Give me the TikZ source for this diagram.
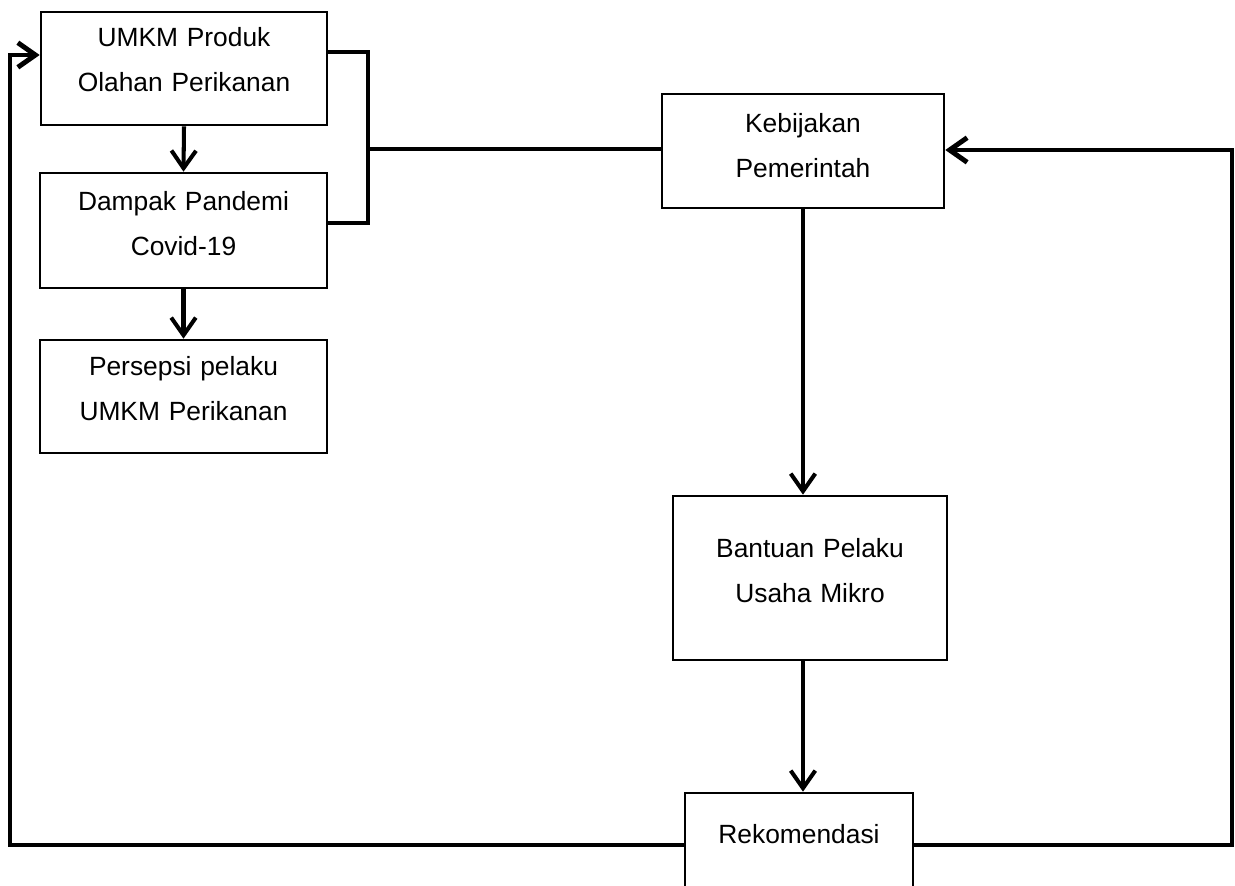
\documentclass[tikz,border=0pt]{standalone}
\usepackage{fontspec}
\setmainfont{Liberation Sans}
\usetikzlibrary{arrows.meta}
\begin{document}
\begin{tikzpicture}[
        x=0.02cm, y=-0.02cm,
        box/.style={rectangle, draw, line width=1.5pt, align=center, inner xsep=0pt, inner ysep=0pt},
        link/.style={line width=2.3pt},
        arrow/.style={link, -{Straight Barb[length=10pt, width=14pt]}},
        loop/.style={line width=2.8pt},
        every node/.style={font=\fontsize{15}{26}\selectfont}
        ]
      \useasboundingbox (0,0) rectangle (1235,886);
      % left column
      \node[box, text width=5.72cm, text height=0.68cm, text depth=1.58cm] (umkm) at (184,68.5) {UMKM Produk\\Olahan Perikanan};
      \node[box, text width=5.74cm, text height=0.74cm, text depth=1.56cm] (dampak) at (183.5,230.5) {Dampak Pandemi\\Covid-19};
      \node[box, text width=5.74cm, text height=0.70cm, text depth=1.56cm] (persepsi) at (183.5,396.5) {Persepsi pelaku\\UMKM Perikanan};
      % right column
      \node[box, text width=5.64cm, text height=0.76cm, text depth=1.52cm] (kebijakan) at (803,151) {Kebijakan\\Pemerintah};
      \node[box, text width=5.48cm, text height=1.22cm, text depth=2.06cm] (bantuan) at (810,578) {Bantuan Pelaku\\Usaha Mikro};
      \node[box, text width=4.56cm, text height=1.00cm, text depth=1.08cm] (rekom) at (799,845) {Rekomendasi};
      % corners of the lines
      \coordinate (bt) at (368,52);
      \coordinate (bm) at (368,149);
      \coordinate (bb) at (368,223);
      \coordinate (lt) at (10,55);
      \coordinate (lb) at (10,845);
      \coordinate (rt) at (1232,150);
      \coordinate (rb) at (1232,845);
      \draw[arrow] (umkm.south) -- (dampak.north);
      \draw[arrow] (dampak.south) -- (persepsi.north);
      \draw[link] (bt -| umkm.east) -- (bt) -- (bb) -- (bb -| dampak.east);
      \draw[link] (bm) -- (bm -| kebijakan.west);
      \draw[arrow] (kebijakan.south) -- (kebijakan.south |- bantuan.north);
      \draw[arrow] (kebijakan.south |- bantuan.south) -- (kebijakan.south |- rekom.north);
      \draw[loop, -{Straight Barb[length=10pt, width=14pt]}] (rekom.west) -- (lb) -- (lt) -- (lt -| umkm.west);
      \draw[loop, -{Straight Barb[length=10pt, width=14pt]}] (rekom.east) -- (rb) -- (rt) -- (rt -| kebijakan.east);
    \end{tikzpicture}
\end{document}
